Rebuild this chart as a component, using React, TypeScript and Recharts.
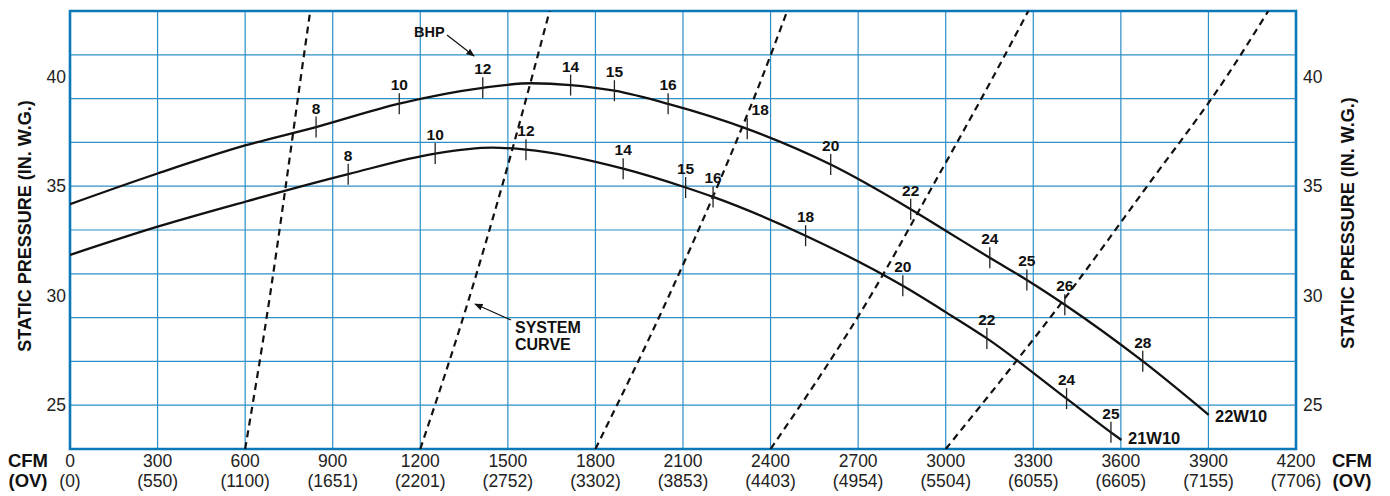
import React from "react";
import {
  CartesianGrid,
  ComposedChart,
  Line,
  ReferenceArea,
  Scatter,
  XAxis,
  YAxis,
} from "recharts";

// axis values
const cfmTicks = [0, 300, 600, 900, 1200, 1500, 1800, 2100, 2400, 2700, 3000, 3300, 3600, 3900, 4200];
const ovTicks = ["0", "550", "1100", "1651", "2201", "2752", "3302", "3853", "4403", "4954", "5504", "6055", "6605", "7155", "7706"];
const pressureTicks = [25, 30, 35, 40];
const pressureGrid = [23, 24, 25, 26, 27, 28, 29, 30, 31, 32, 33, 34, 35, 36, 37, 38, 39, 40, 41, 42, 43];

// fan curves
const cfm22W10 = [0, 300, 600, 843, 1128, 1414, 1580, 1715, 1865, 2049, 2320, 2606, 2880, 3000, 3151, 3278, 3408, 3675, 3901];
const sp22W10 = [34.18, 35.58, 36.86, 37.7, 38.77, 39.49, 39.7, 39.62, 39.36, 38.76, 37.62, 35.99, 33.95, 32.97, 31.73, 30.72, 29.59, 27.01, 24.56];

const cfm21W10 = [0, 300, 600, 953, 1251, 1446, 1562, 1895, 2109, 2203, 2520, 2853, 3000, 3141, 3414, 3566, 3602];
const sp21W10 = [31.86, 33.15, 34.29, 35.55, 36.49, 36.76, 36.67, 35.8, 34.94, 34.51, 32.74, 30.45, 29.25, 28.05, 25.3, 23.76, 23.41];

// BHP marks
const bhpCfm22 = [843, 1128, 1414, 1715, 1865, 2049, 2320, 2606, 2880, 3151, 3278, 3408, 3675];
const bhpSp22 = [37.7, 38.77, 39.49, 39.62, 39.36, 38.76, 37.62, 35.99, 33.95, 31.73, 30.72, 29.59, 27.01];
const bhpHp22 = ["8", "10", "12", "14", "15", "16", "18", "20", "22", "24", "25", "26", "28"];

const bhpCfm21 = [953, 1251, 1562, 1895, 2109, 2203, 2520, 2853, 3141, 3414, 3566];
const bhpSp21 = [35.55, 36.49, 36.67, 35.8, 34.94, 34.51, 32.74, 30.45, 28.05, 25.3, 23.76];
const bhpHp21 = ["8", "10", "12", "14", "15", "16", "18", "20", "22", "24", "25"];

// system curves (pressure levels shared)
const systemSp = [23, 30, 35, 40, 43];
const system1 = [600, 685, 739, 791, 823];
const system2 = [1200, 1370, 1480, 1583, 1643];
const system3 = [1800, 2052, 2218, 2372, 2457];
const system4 = [2400, 2743, 2955, 3163, 3283];
const system5 = [3000, 3415, 3690, 3962, 4105];

const toRows = (xs: number[], ys: number[]) => xs.map((cfm, i) => ({ cfm, p: ys[i] }));
const toMarks = (xs: number[], ys: number[], hp: string[], curve: string) =>
  xs.map((cfm, i) => ({ cfm, p: ys[i], hp: hp[i], curve }));

const FONT = "'Liberation Sans', Arial, Helvetica, sans-serif";
const GRID = "#2a8fc6";
const FRAME = "#0b78b8";
const INK = "#111";

// label nudges where a dashed line passes through the number
const nudge: Record<string, number> = { "22W10-18": 13 };

function BhpMark(props: any) {
  const { cx, cy, payload } = props;
  if (cx == null || cy == null) return null;
  const dx = nudge[`${payload.curve}-${payload.hp}`] || 0;
  return (
    <g>
      <line x1={cx} x2={cx} y1={cy - 10.5} y2={cy + 10.5} stroke="#222" strokeWidth={1.3} />
      <text
        x={cx + dx}
        y={cy - 13.5}
        textAnchor="middle"
        fontFamily={FONT}
        fontWeight={700}
        fontSize={15.5}
        fill={INK}
      >
        {payload.hp}
      </text>
    </g>
  );
}

function CfmTick(props: any) {
  const { x, y, payload, index } = props;
  return (
    <g>
      <text x={x} y={y + 18} textAnchor="middle" fontFamily={FONT} fontSize={17.5} fill="#222">
        {payload.value}
      </text>
      <text x={x} y={y + 38} textAnchor="middle" fontFamily={FONT} fontSize={17.5} fill="#222">
        ({ovTicks[index]})
      </text>
    </g>
  );
}

const curveLine = { type: "monotone" as const, dataKey: "p", dot: false, activeDot: false, isAnimationActive: false, stroke: INK };

export default function App() {
  const systems = [system1, system2, system3, system4, system5];
  return (
    <div style={{ position: "absolute", left: 0, top: 0, width: 1390, height: 496, background: "#fff" }}>
      <ComposedChart width={1390} height={496} margin={{ top: 11, right: 0, bottom: 0, left: 0 }}>
        <CartesianGrid
          yAxisId="l"
          stroke={GRID}
          strokeWidth={1.2}
          horizontalValues={pressureGrid}
          verticalValues={cfmTicks}
        />
        <XAxis
          type="number"
          dataKey="cfm"
          domain={[0, 4200]}
          ticks={cfmTicks}
          interval={0}
          height={47}
          axisLine={false}
          tickLine={false}
          tickSize={0}
          tickMargin={0}
          tick={<CfmTick />}
          allowDataOverflow
        />
        <YAxis
          yAxisId="l"
          type="number"
          domain={[23, 43]}
          ticks={pressureTicks}
          width={70}
          axisLine={false}
          tickLine={false}
          tickSize={0}
          tickMargin={4}
          tick={{ fontFamily: FONT, fontSize: 17.5, fill: "#222" }}
          allowDataOverflow
        />
        <YAxis
          yAxisId="r"
          orientation="right"
          type="number"
          domain={[23, 43]}
          ticks={pressureTicks}
          width={94}
          axisLine={false}
          tickLine={false}
          tickSize={0}
          tickMargin={7}
          tick={{ fontFamily: FONT, fontSize: 17.5, fill: "#222", textAnchor: "start" }}
          allowDataOverflow
        />
        <ReferenceArea
          yAxisId="l"
          x1={0}
          x2={4200}
          y1={23}
          y2={43}
          fill="none"
          fillOpacity={0}
          stroke={FRAME}
          strokeWidth={2.6}
        />
        {systems.map((s, i) => (
          <Line
            key={`sys${i}`}
            {...curveLine}
            yAxisId="l"
            data={toRows(s, systemSp)}
            strokeWidth={2.2}
            strokeDasharray="7 5"
          />
        ))}
        <Line {...curveLine} yAxisId="l" data={toRows(cfm22W10, sp22W10)} strokeWidth={2.3} />
        <Line {...curveLine} yAxisId="l" data={toRows(cfm21W10, sp21W10)} strokeWidth={2.3} />
        <Scatter
          yAxisId="l"
          dataKey="p"
          data={toMarks(bhpCfm22, bhpSp22, bhpHp22, "22W10")}
          shape={<BhpMark />}
          isAnimationActive={false}
        />
        <Scatter
          yAxisId="l"
          dataKey="p"
          data={toMarks(bhpCfm21, bhpSp21, bhpHp21, "21W10")}
          shape={<BhpMark />}
          isAnimationActive={false}
        />
      </ComposedChart>
      <svg
        width={1390}
        height={496}
        style={{ position: "absolute", left: 0, top: 0, pointerEvents: "none" }}
      >
        <defs>
          <marker id="arr" viewBox="0 0 10 10" refX="9" refY="5" markerWidth="7" markerHeight="7" orient="auto">
            <path d="M0,1 L10,5 L0,9 z" fill={INK} />
          </marker>
        </defs>
        <g fontFamily={FONT} fontWeight={700} fill={INK}>
          <text transform="translate(25,226) rotate(-90)" textAnchor="middle" dominantBaseline="central" fontSize={18}>
            STATIC PRESSURE (IN. W.G.)
          </text>
          <text transform="translate(1348,223) rotate(-90)" textAnchor="middle" dominantBaseline="central" fontSize={18}>
            STATIC PRESSURE (IN. W.G.)
          </text>
          <text x={28} y={467} textAnchor="middle" fontSize={18.5}>CFM</text>
          <text x={28} y={487} textAnchor="middle" fontSize={18.5}>(OV)</text>
          <text x={1352} y={467} textAnchor="middle" fontSize={18.5}>CFM</text>
          <text x={1352} y={487} textAnchor="middle" fontSize={18.5}>(OV)</text>
          <text x={414} y={37} fontSize={14.5}>BHP</text>
          <text x={515} y={333} fontSize={16}>SYSTEM</text>
          <text x={515} y={350} fontSize={16}>CURVE</text>
          <text x={1215} y={422} fontSize={16.5}>22W10</text>
          <text x={1128} y={444} fontSize={16.5}>21W10</text>
        </g>
        <line x1={447} y1={35} x2={474} y2={56} stroke={INK} strokeWidth={1.2} markerEnd="url(#arr)" />
        <line x1={511} y1={320} x2={475} y2={304} stroke={INK} strokeWidth={1.2} markerEnd="url(#arr)" />
      </svg>
    </div>
  );
}
